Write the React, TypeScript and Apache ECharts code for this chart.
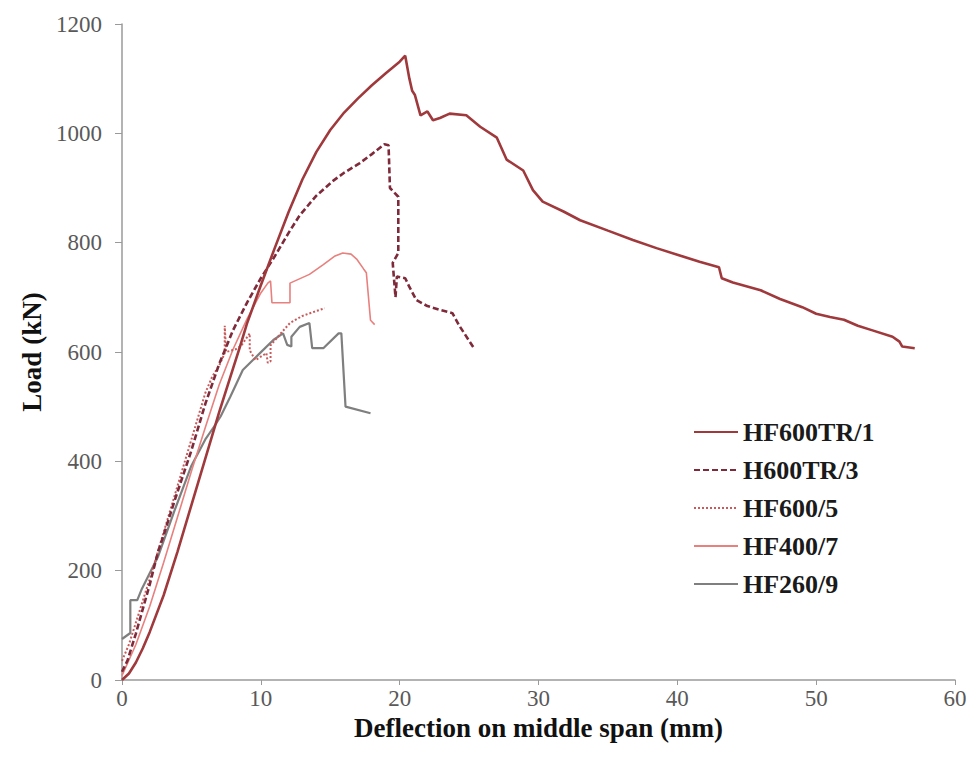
import React, { useEffect, useRef } from "react";
import * as echarts from "echarts";

const seriesNames = ["HF600TR/1", "H600TR/3", "HF600/5", "HF400/7", "HF260/9"];

const hf600tr1: number[][] = [
  [0, 0], [0.5, 12], [1, 32], [1.5, 58], [2, 88], [3, 155], [4, 235], [5, 320], [6, 405], [7, 490],
  [8, 570], [8.5, 610], [9, 652], [10, 722], [11, 790], [12, 856], [13, 916], [14, 966], [15, 1006],
  [16, 1038], [17, 1064], [18, 1088], [19, 1110], [20, 1131], [20.4, 1142],
  [20.7, 1100], [20.9, 1078], [21.1, 1070], [21.5, 1033], [22.0, 1040], [22.4, 1024], [22.9, 1028],
  [23.6, 1036], [24.8, 1033], [25.8, 1012], [27.0, 992], [27.7, 952], [28.9, 932], [29.6, 896],
  [30.3, 875], [31.8, 857], [33.0, 841], [35, 822], [36.8, 805], [38.5, 790], [40, 778], [41.6, 765],
  [43.0, 755], [43.2, 735], [44, 727], [46, 713], [47.4, 697], [49, 682], [50, 670], [51, 664],
  [52, 659], [53, 648], [54, 640], [55.5, 628], [56.0, 619], [56.2, 610], [57.1, 607],
];

const h600tr3: number[][] = [
  [0, 15], [0.4, 36], [1, 85], [2, 175], [2.6, 235], [3, 265], [3.8, 329], [5, 420], [6, 505],
  [7, 578], [8, 640], [9, 690], [10, 735], [11, 775], [12, 818], [12.8, 850], [14, 886], [15.2, 913],
  [16, 928], [17.1, 945], [18, 962], [18.9, 980], [19.2, 978], [19.3, 900], [19.9, 884], [19.9, 781],
  [19.5, 763], [19.7, 700], [19.8, 738], [20.4, 735], [20.7, 719], [21.2, 695], [22.0, 684],
  [22.9, 677], [23.8, 671], [24.3, 648], [25.3, 609],
];

const hf600_5: number[][] = [
  [0, 35], [0.5, 65], [1, 105], [2, 185], [3, 270], [4, 355], [5, 440], [6, 525], [6.5, 555],
  [7, 575], [7.4, 598], [7.4, 648], [7.5, 600], [8.2, 605], [8.6, 612], [9.2, 634], [9.2, 603],
  [9.6, 585], [10.4, 598], [10.5, 580], [10.7, 583], [10.7, 612], [11.5, 636], [12.1, 653],
  [13, 666], [14, 675], [14.6, 680],
];

const hf400_7: number[][] = [
  [0, 8], [1, 65], [2, 135], [3, 215], [4, 298], [5, 382], [6, 462], [7, 540], [8, 605], [9, 660],
  [10, 708], [10.5, 726], [10.7, 730], [10.8, 690], [12.1, 690], [12.1, 726], [13.5, 742],
  [14.5, 760], [15.3, 775], [15.9, 781], [16.5, 779], [16.9, 770], [17.4, 752], [17.6, 745],
  [17.9, 658], [18.2, 650],
];

const hf260_9: number[][] = [
  [0, 75], [0.6, 86], [0.6, 146], [1.1, 146], [1.4, 165], [2.6, 226], [3.8, 311], [5, 392],
  [6, 440], [6.7, 466], [7.1, 482], [7.8, 518], [8.7, 567], [9.9, 597], [10.9, 622], [11.6, 634],
  [11.9, 613], [12.2, 610], [12.2, 628], [12.8, 646], [13.5, 653], [13.7, 607], [14.5, 607],
  [15.6, 634], [15.8, 634], [16.1, 500], [17.9, 488],
];

const seriesData = [hf600tr1, h600tr3, hf600_5, hf400_7, hf260_9];
const seriesColors = ["#A0393C", "#7E2A3A", "#C85A5A", "#E8807E", "#7F7F7F"];
const seriesWidths = [2.6, 2.6, 2, 1.6, 2.2];
const seriesTypes: any[] = ["solid", [6, 3], [2, 2], "solid", "solid"];

const xAxisName = "Deflection on middle span (mm)";
const yAxisName = "Load (kN)";

export default function App() {
  const ref = useRef<HTMLDivElement>(null);
  useEffect(() => {
    if (!ref.current) return;
    const chart = echarts.init(ref.current, null, { renderer: "svg" });
    const serif = "'Liberation Serif', 'Times New Roman', serif";
    chart.setOption({
      animation: false,
      backgroundColor: "#ffffff",
      grid: { left: 122, right: 22, top: 24, bottom: 84 },
      legend: {
        orient: "vertical",
        left: 693,
        top: 419,
        padding: 0,
        itemWidth: 44,
        itemHeight: 12,
        itemGap: 12,
        data: seriesNames,
        itemStyle: { opacity: 0 },
        textStyle: { fontFamily: serif, fontWeight: "bold", fontSize: 26, color: "#1a1a1a", lineHeight: 26 },
      },
      xAxis: {
        type: "value",
        min: 0,
        max: 60,
        interval: 10,
        name: xAxisName,
        nameLocation: "middle",
        nameGap: 31,
        nameTextStyle: { fontFamily: serif, fontWeight: "bold", fontSize: 27, color: "#111" },
        axisLine: { show: true, lineStyle: { color: "#9a9a9a", width: 1.5 } },
        axisTick: { show: true, length: 5, lineStyle: { color: "#9a9a9a" } },
        axisLabel: { fontFamily: serif, fontSize: 23, color: "#595959", margin: 7 },
        splitLine: { show: false },
      },
      yAxis: {
        type: "value",
        min: 0,
        max: 1200,
        interval: 200,
        name: yAxisName,
        nameLocation: "middle",
        nameGap: 70,
        nameRotate: 90,
        nameTextStyle: { fontFamily: serif, fontWeight: "bold", fontSize: 27, color: "#111" },
        axisLine: { show: true, lineStyle: { color: "#9a9a9a", width: 1.5 } },
        axisTick: { show: true, length: 7, lineStyle: { color: "#9a9a9a" } },
        axisLabel: {
          fontFamily: serif,
          fontSize: 23,
          color: "#595959",
          margin: 20,
          formatter: (v: number) => String(v),
        },
        splitLine: { show: false },
      },
      series: seriesNames.map((name, i) => ({
        name,
        type: "line",
        data: seriesData[i],
        showSymbol: false,
        symbol: "none",
        z: 10 - i,
        lineStyle: { color: seriesColors[i], width: seriesWidths[i], type: seriesTypes[i] },
        itemStyle: { color: seriesColors[i] },
      })),
    });
    return () => chart.dispose();
  }, []);
  return (
    <div
      ref={ref}
      style={{ position: "fixed", left: 0, top: 0, width: 977, height: 764 }}
    />
  );
}
